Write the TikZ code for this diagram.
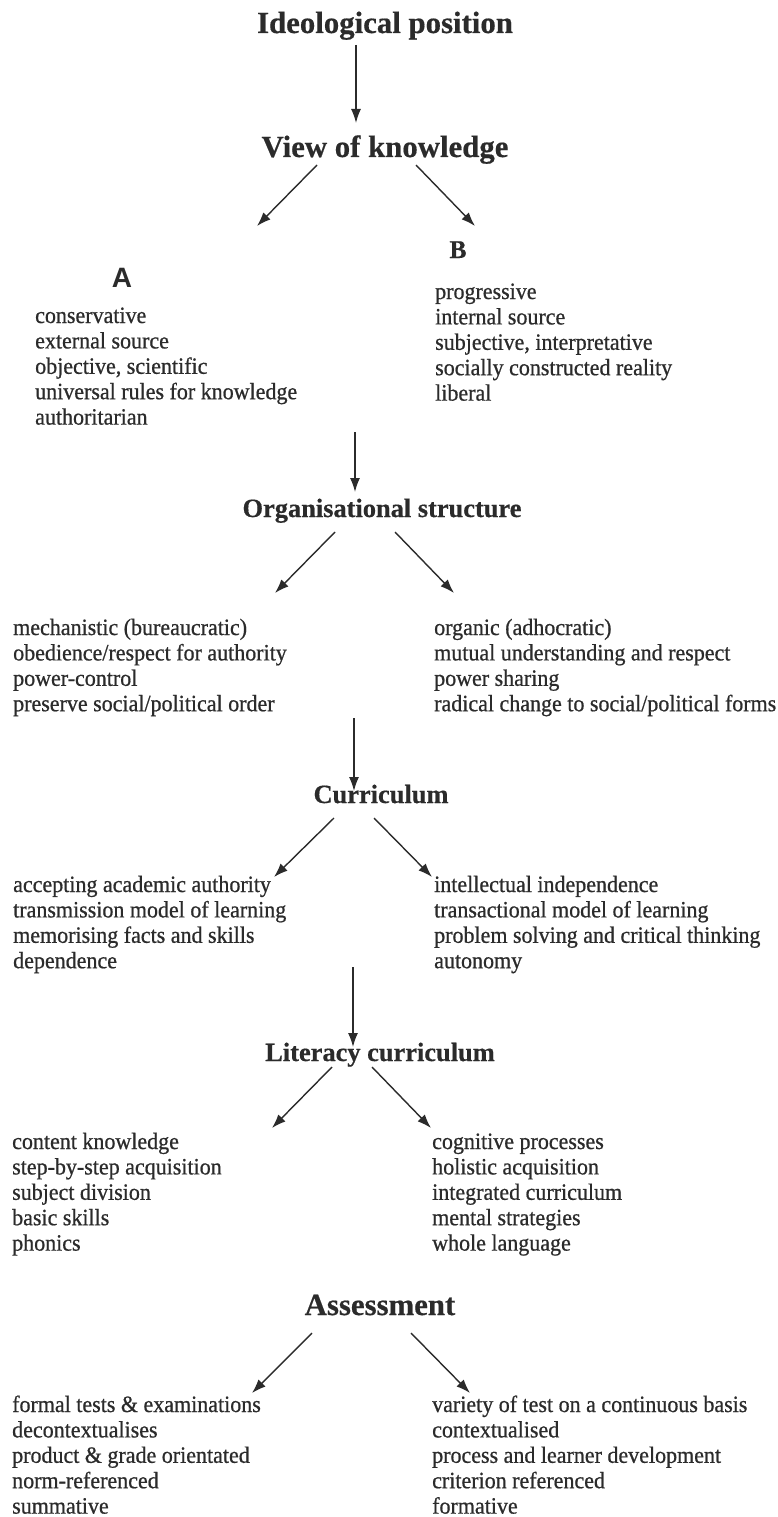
\documentclass[tikz,border=0pt]{standalone}
\usepackage{fontspec}
\setmainfont{Liberation Serif}
\newfontfamily\asans{Liberation Sans}
\newfontfamily\listfont{Liberation Serif}[FakeStretch=0.94,FakeBold=0.7]
\newfontfamily\headfont{Liberation Serif}[FakeBold=0.5]
\usetikzlibrary{arrows.meta}
\definecolor{ink}{HTML}{2B2B2B}
\tikzset{
  headbig/.style={anchor=base, inner sep=0pt, text=ink, font=\fontsize{30.8}{34}\selectfont\headfont\bfseries},
  headmid/.style={anchor=base, inner sep=0pt, text=ink, font=\fontsize{26.4}{30}\selectfont\headfont\bfseries},
  listtext/.style={anchor=base west, inner sep=0pt, text=ink, font=\fontsize{23.4}{25.4}\selectfont\listfont},
  arr/.style={draw=ink, line width=1.4pt, -{Latex[length=14pt,width=10pt]}}
}
\newcommand{\lst}[1]{\begin{tabular}[t]{@{}l@{}}#1\end{tabular}}
\begin{document}
\begin{tikzpicture}[x=1pt,y=-1pt]
\useasboundingbox[fill=white] (0,0) rectangle (778,1517);

% headings
\node[headbig] (ideo) at (385,33) {Ideological position};
\node[headbig] (view) at (385,157) {View of knowledge};
\node[anchor=base, inner sep=0pt, text=ink, font=\fontsize{25.5}{28}\selectfont\headfont\bfseries] (B) at (458,258) {B};
\node[anchor=base, inner sep=0pt, text=ink, font=\fontsize{28}{30}\selectfont\asans\bfseries] (A) at (122,287) {A};
\node[headmid] (org) at (382,517) {Organisational structure};
\node[headmid] (curr) at (381,803) {Curriculum};
\node[headmid] (lit) at (380,1061) {Literacy curriculum};
\node[headbig] (ass) at (380,1315) {Assessment};

% lists
\node[listtext] (Alist) at (35,323) {\lst{conservative\\ external source\\ objective, scientific\\ universal rules for knowledge\\ authoritarian}};
\node[listtext] (Blist) at (435,299) {\lst{progressive\\ internal source\\ subjective, interpretative\\ socially constructed reality\\ liberal}};

\node[listtext] (orgL) at (13,635) {\lst{mechanistic (bureaucratic)\\ obedience/respect for authority\\ power-control\\ preserve social/political order}};
\node[listtext] (orgR) at (434,635) {\lst{organic (adhocratic)\\ mutual understanding and respect\\ power sharing\\ radical change to social/political forms}};

\node[listtext] (curL) at (13,892) {\lst{accepting academic authority\\ transmission model of learning\\ memorising facts and skills\\ dependence}};
\node[listtext] (curR) at (434,892) {\lst{intellectual independence\\ transactional model of learning\\ problem solving and critical thinking\\ autonomy}};

\node[listtext] (litL) at (12,1149) {\lst{content knowledge\\ step-by-step acquisition\\ subject division\\ basic skills\\ phonics}};
\node[listtext] (litR) at (432,1149) {\lst{cognitive processes\\ holistic acquisition\\ integrated curriculum\\ mental strategies\\ whole language}};

\node[listtext] (assL) at (12,1412) {\lst{formal tests \& examinations\\ decontextualises\\ product \& grade orientated\\ norm-referenced\\ summative}};
\node[listtext] (assR) at (432,1412) {\lst{variety of test on a continuous basis\\ contextualised\\ process and learner development\\ criterion referenced\\ formative}};

% connector end points
\coordinate (a1s) at (356,45);   \coordinate (a1e) at (356,123);
\coordinate (v1s) at (317,165);  \coordinate (v1e) at (257,226);
\coordinate (v2s) at (416,165);  \coordinate (v2e) at (475,226);
\coordinate (a2s) at (355,432);  \coordinate (a2e) at (355,492);
\coordinate (o1s) at (335,532);  \coordinate (o1e) at (275,593);
\coordinate (o2s) at (395,532);  \coordinate (o2e) at (454,593);
\coordinate (a3s) at (354,718);  \coordinate (a3e) at (354,791);
\coordinate (c1s) at (334,818);  \coordinate (c1e) at (274,877);
\coordinate (c2s) at (374,818);  \coordinate (c2e) at (432,877);
\coordinate (a4s) at (353,967);  \coordinate (a4e) at (353,1047);
\coordinate (l1s) at (332,1067); \coordinate (l1e) at (272,1128);
\coordinate (l2s) at (372,1067); \coordinate (l2e) at (431,1128);
\coordinate (s1s) at (312,1333); \coordinate (s1e) at (252,1393);
\coordinate (s2s) at (411,1333); \coordinate (s2e) at (470,1393);

\draw[arr] (a1s) -- (a1e);
\draw[arr] (v1s) -- (v1e);
\draw[arr] (v2s) -- (v2e);
\draw[arr] (a2s) -- (a2e);
\draw[arr] (o1s) -- (o1e);
\draw[arr] (o2s) -- (o2e);
\draw[arr] (a3s) -- (a3e);
\draw[arr] (c1s) -- (c1e);
\draw[arr] (c2s) -- (c2e);
\draw[arr] (a4s) -- (a4e);
\draw[arr] (l1s) -- (l1e);
\draw[arr] (l2s) -- (l2e);
\draw[arr] (s1s) -- (s1e);
\draw[arr] (s2s) -- (s2e);
\end{tikzpicture}
\end{document}
